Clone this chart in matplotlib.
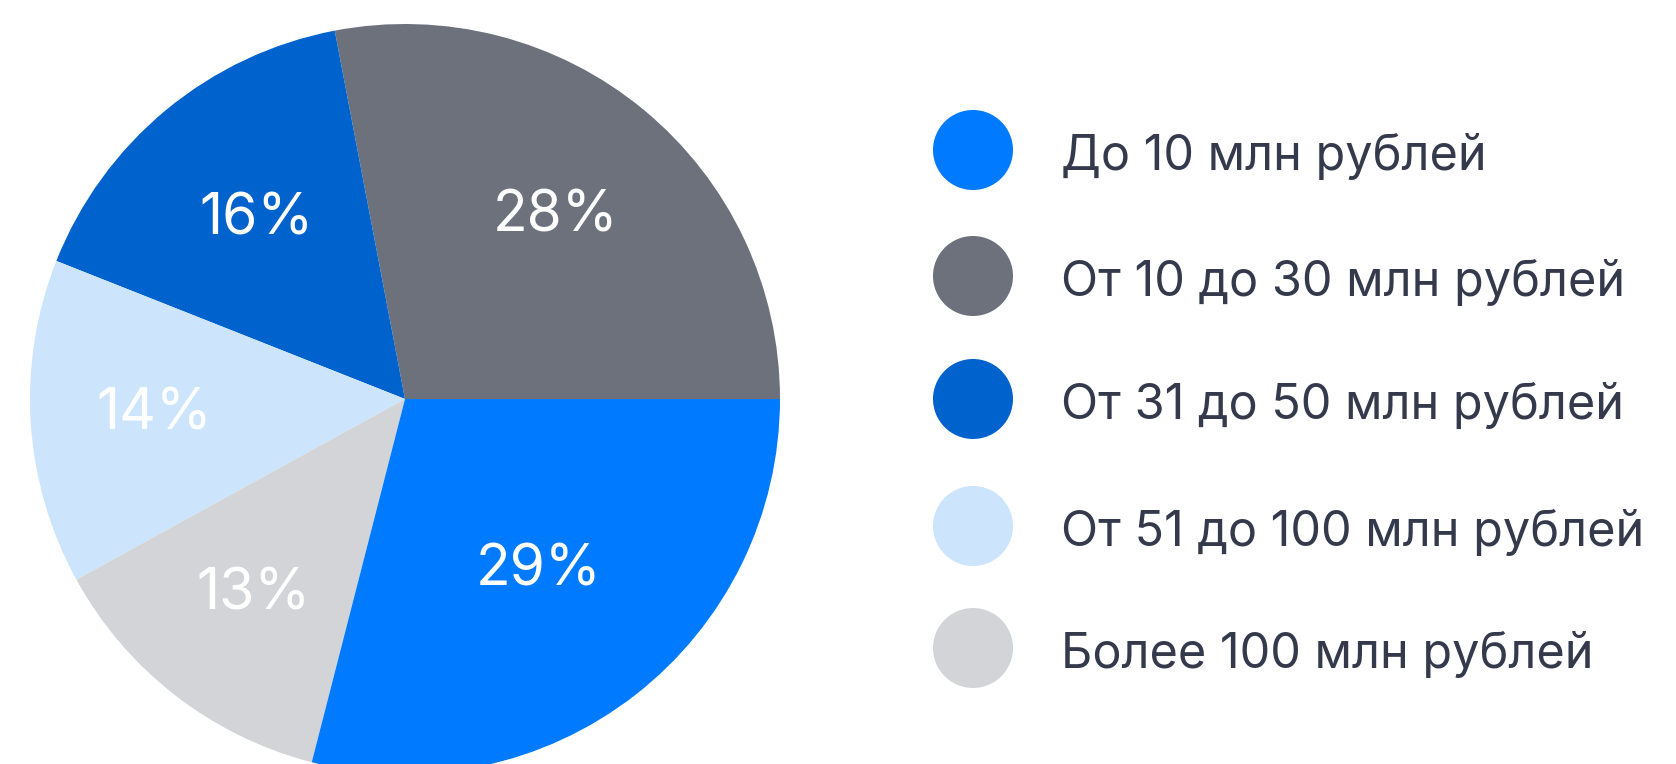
import matplotlib
matplotlib.use("Agg")
import matplotlib.pyplot as plt
import numpy as np

# legend order
CATEGORIES = ["До 10 млн рублей", "От 10 до 30 млн рублей", "От 31 до 50 млн рублей",
              "От 51 до 100 млн рублей", "Более 100 млн рублей"]
SHARES = [29, 28, 16, 14, 13]
COLORS = ["#007BFF", "#6C717C", "#0062CC", "#CCE4FC", "#D3D4D8"]
# order of wedges counter-clockwise from 3 o'clock
PIE_ORDER = [1, 2, 3, 4, 0]
# radial placement of the % labels, same order as the legend
LABEL_R = [0.58, 0.63, 0.62, 0.67, 0.66]

TEXT_COLOR = "#343A4B"
plt.rcParams["font.family"] = ["Inter", "DejaVu Sans"]

W, H = 1676, 764
fig = plt.figure(figsize=(W / 100, H / 100), dpi=100)

# pie
ax = fig.add_axes([30 / W, -10 / H, 750 / W, 750 / H])
vals = [SHARES[i] for i in PIE_ORDER]
cols = [COLORS[i] for i in PIE_ORDER]
wedges, _ = ax.pie(vals, colors=cols, startangle=0, counterclock=True, radius=1,
                   wedgeprops=dict(linewidth=0))
for w, i in zip(wedges, PIE_ORDER):
    ang = np.deg2rad((w.theta1 + w.theta2) / 2)
    r = LABEL_R[i]
    ax.text(r * np.cos(ang), r * np.sin(ang), f"{SHARES[i]}%", color="white",
            fontsize=41, fontweight="normal", ha="center", va="center")
ax.set_xlim(-1, 1)
ax.set_ylim(-1, 1)
ax.set_aspect("equal")
ax.axis("off")

# legend drawn in pixel coords
lax = fig.add_axes([0, 0, 1, 1])
lax.set_xlim(0, W)
lax.set_ylim(H, 0)
lax.axis("off")
ys = [150, 276, 399, 526, 648]
lax.scatter([973] * len(ys), ys, s=(80 * 0.72) ** 2, c=COLORS, linewidths=0)
for y, lab in zip(ys, CATEGORIES):
    lax.text(1061, y + 20, lab, fontsize=35, color=TEXT_COLOR, va="baseline", ha="left")

fig.savefig("out.png", dpi=100, facecolor="white")
